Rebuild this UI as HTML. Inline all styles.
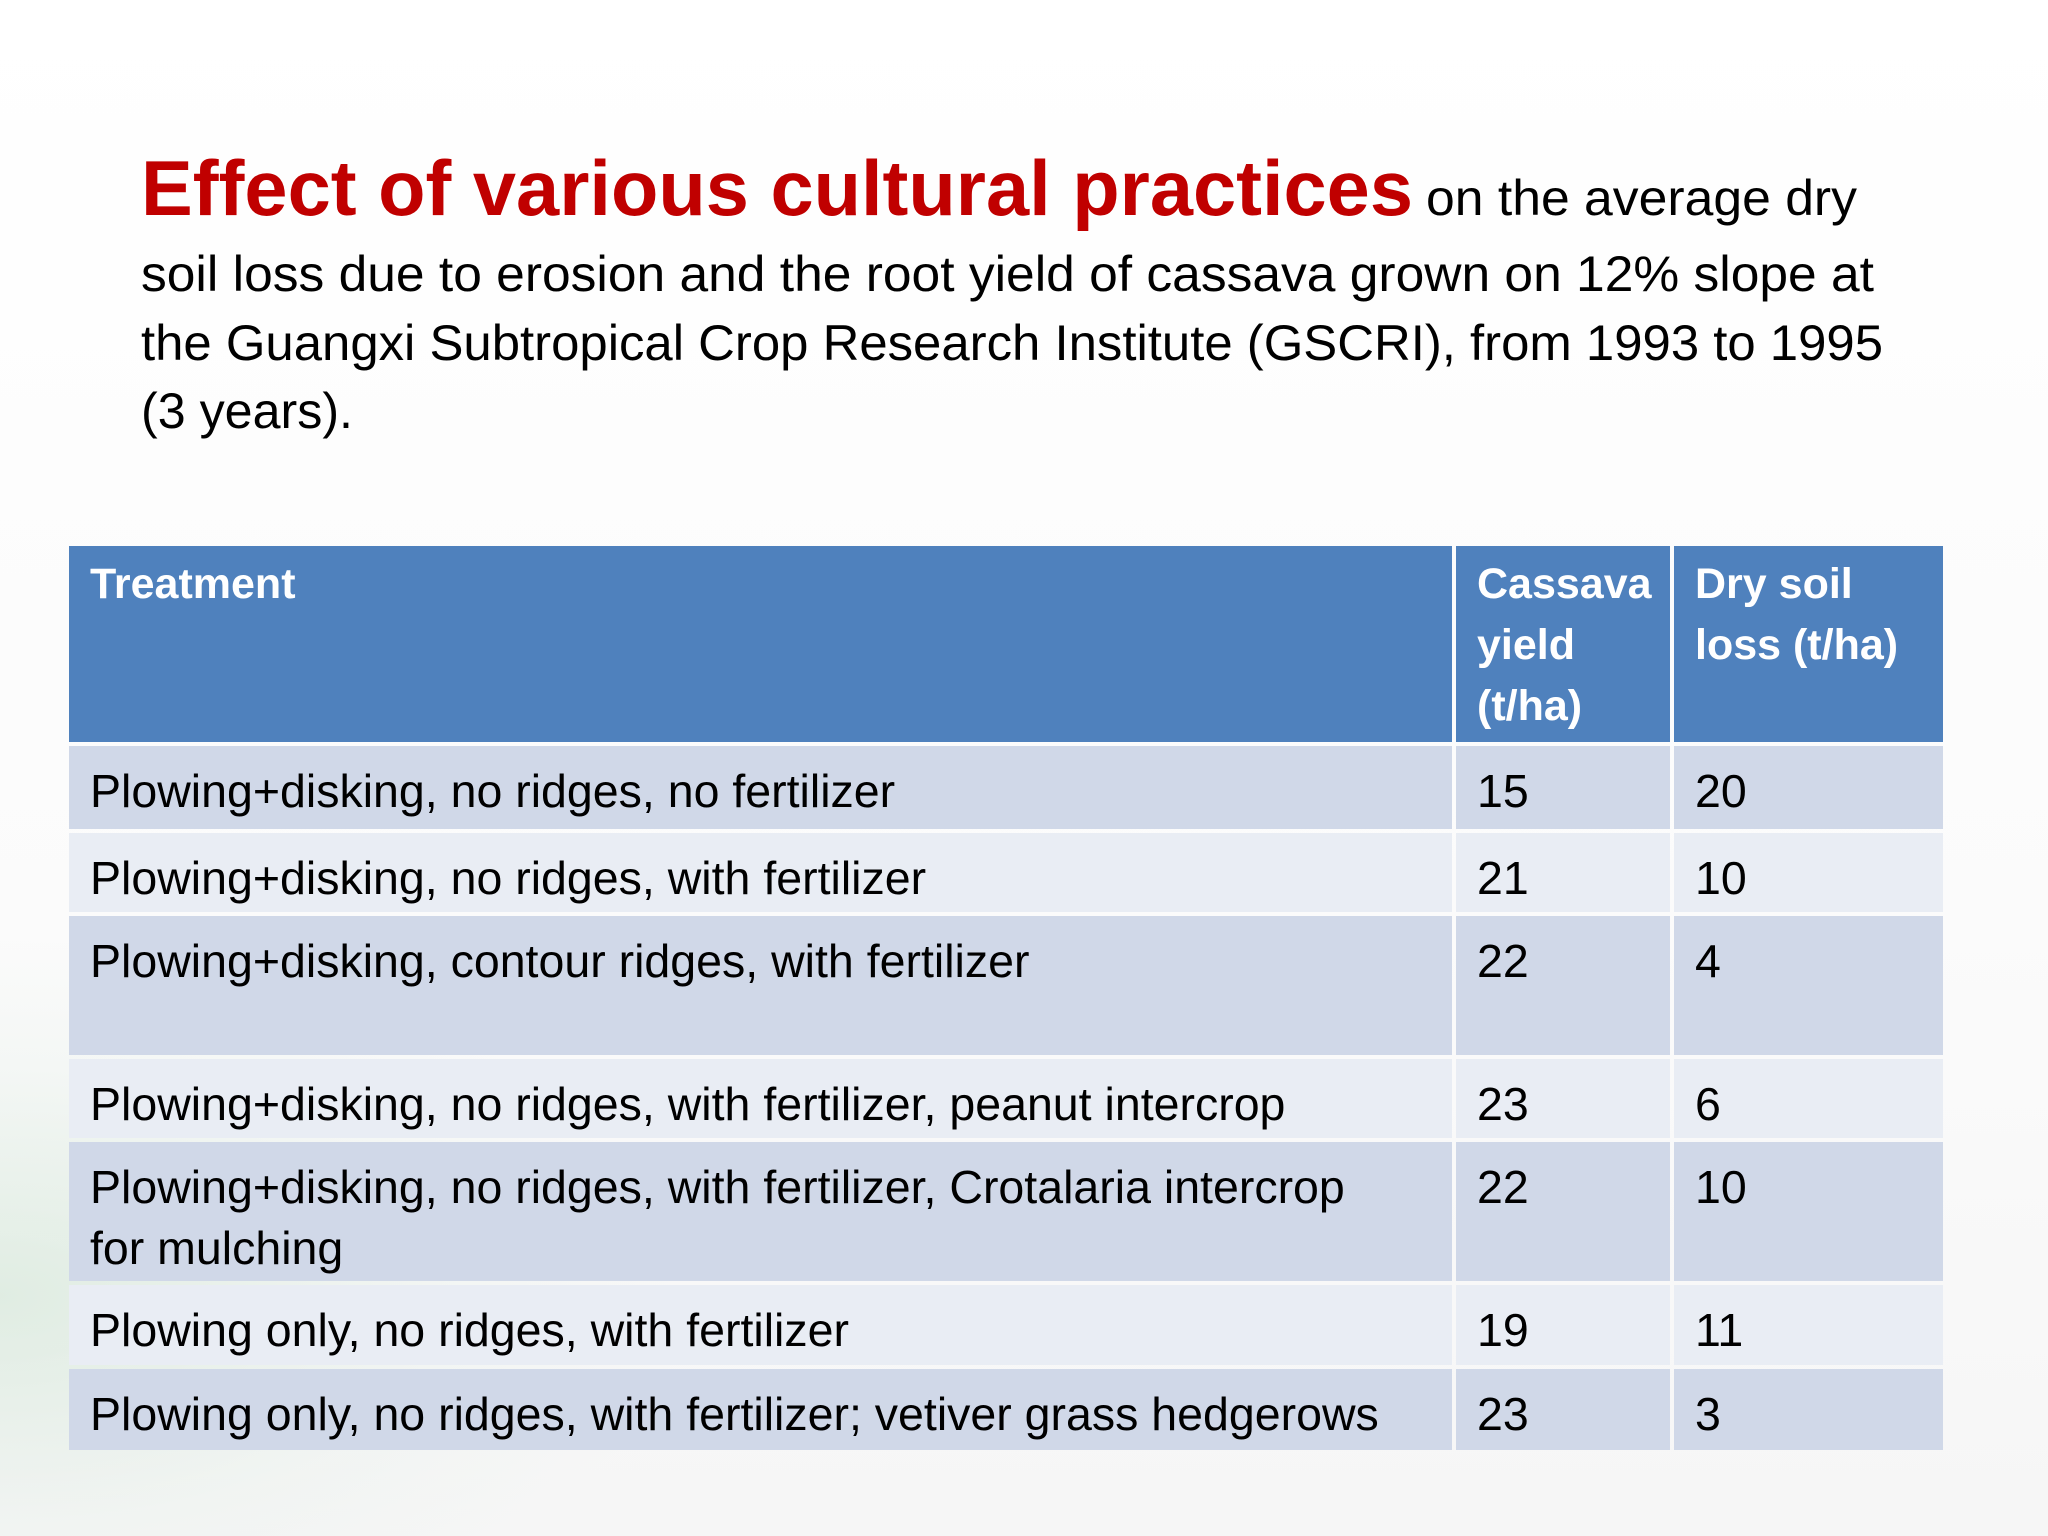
<!DOCTYPE html>
<html><head><meta charset="utf-8"><style>
html,body{margin:0;padding:0;width:2048px;height:1536px;overflow:hidden}
body{position:relative;background:linear-gradient(180deg,#ffffff 0%,#fbfbfb 60%,#f6f6f6 100%);font-family:"Liberation Sans",sans-serif}
.deco{position:absolute;left:0;top:936px;width:700px;height:600px;background:radial-gradient(ellipse at 0% 60%,rgba(200,225,205,0.5),rgba(220,235,225,0.2) 45%,rgba(255,255,255,0) 70%)}
.cell{position:absolute;box-sizing:border-box;padding:15px 0 0 21px;font-size:46.5px;line-height:61px;color:#000;white-space:nowrap;overflow:hidden}
.h{background:#4F81BD;color:#fff;font-weight:bold;padding-top:8px;font-size:43px}
.a{background:#D0D8E8}
.b{background:#E9EDF4}
</style></head><body>
<div class="deco"></div>
<svg width="2048" height="500" style="position:absolute;left:0;top:0">
<text x="141" y="215" font-family="Liberation Sans" font-weight="bold" font-size="78" fill="#C00000" textLength="1272" lengthAdjust="spacingAndGlyphs">Effect of various cultural practices</text>
<text x="1426" y="215" font-family="Liberation Sans" font-size="50" fill="#000" textLength="431" lengthAdjust="spacingAndGlyphs">on the average dry</text>
<text x="141" y="291" font-family="Liberation Sans" font-size="50" fill="#000" textLength="1733" lengthAdjust="spacingAndGlyphs">soil loss due to erosion and the root yield of cassava grown on 12% slope at</text>
<text x="141" y="360" font-family="Liberation Sans" font-size="50" fill="#000" textLength="1742" lengthAdjust="spacingAndGlyphs">the Guangxi Subtropical Crop Research Institute (GSCRI), from 1993 to 1995</text>
<text x="141" y="428" font-family="Liberation Sans" font-size="50" fill="#000" textLength="212" lengthAdjust="spacingAndGlyphs">(3 years).</text>
</svg>
<div style="position:absolute;left:0;top:0">
<div class="cell h" style="left:69px;top:546px;width:1383px;height:196px">Treatment</div>
<div class="cell h" style="left:1456px;top:546px;width:214px;height:196px">Cassava<br>yield<br>(t/ha)</div>
<div class="cell h" style="left:1674px;top:546px;width:269px;height:196px">Dry soil<br>loss (t/ha)</div>

<div class="cell a" style="left:69px;top:746px;width:1383px;height:83px">Plowing+disking, no ridges, no fertilizer</div>
<div class="cell a" style="left:1456px;top:746px;width:214px;height:83px">15</div>
<div class="cell a" style="left:1674px;top:746px;width:269px;height:83px">20</div>

<div class="cell b" style="left:69px;top:833px;width:1383px;height:79px">Plowing+disking, no ridges, with fertilizer</div>
<div class="cell b" style="left:1456px;top:833px;width:214px;height:79px">21</div>
<div class="cell b" style="left:1674px;top:833px;width:269px;height:79px">10</div>

<div class="cell a" style="left:69px;top:916px;width:1383px;height:139px">Plowing+disking, contour ridges, with fertilizer</div>
<div class="cell a" style="left:1456px;top:916px;width:214px;height:139px">22</div>
<div class="cell a" style="left:1674px;top:916px;width:269px;height:139px">4</div>

<div class="cell b" style="left:69px;top:1059px;width:1383px;height:79px">Plowing+disking, no ridges, with fertilizer, peanut intercrop</div>
<div class="cell b" style="left:1456px;top:1059px;width:214px;height:79px">23</div>
<div class="cell b" style="left:1674px;top:1059px;width:269px;height:79px">6</div>

<div class="cell a" style="left:69px;top:1142px;width:1383px;height:139px">Plowing+disking, no ridges, with fertilizer, Crotalaria intercrop<br>for mulching</div>
<div class="cell a" style="left:1456px;top:1142px;width:214px;height:139px">22</div>
<div class="cell a" style="left:1674px;top:1142px;width:269px;height:139px">10</div>

<div class="cell b" style="left:69px;top:1285px;width:1383px;height:80px">Plowing only, no ridges, with fertilizer</div>
<div class="cell b" style="left:1456px;top:1285px;width:214px;height:80px">19</div>
<div class="cell b" style="left:1674px;top:1285px;width:269px;height:80px">11</div>

<div class="cell a" style="left:69px;top:1369px;width:1383px;height:81px">Plowing only, no ridges, with fertilizer; vetiver grass hedgerows</div>
<div class="cell a" style="left:1456px;top:1369px;width:214px;height:81px">23</div>
<div class="cell a" style="left:1674px;top:1369px;width:269px;height:81px">3</div>
</div>
</body></html>
